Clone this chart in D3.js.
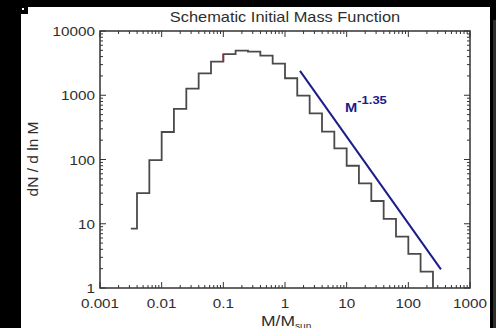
<!DOCTYPE html>
<html>
<head>
<meta charset="utf-8">
<script src="https://cdnjs.cloudflare.com/ajax/libs/d3/7.8.5/d3.min.js"></script>
<style>
  html, body { margin: 0; padding: 0; background: #000; }
  svg { display: block; }
  text { font-family: "Liberation Sans", Arial, Helvetica, sans-serif; fill: #2e2e2e; }
</style>
</head>
<body>
<svg id="chart" width="496" height="328"></svg>
<script>
// histogram bin edges (M/Msun) and dN/dlnM per bin
const binEdges = [0.00316, 0.00398, 0.00631, 0.01, 0.0158, 0.0251, 0.0398, 0.0631, 0.1,
    0.158, 0.251, 0.398, 0.631, 1, 1.58, 2.51, 3.98, 6.31, 10, 15.8, 25.1, 39.8, 63.1,
    100, 158, 251];
const binCounts = [8.4, 30, 98, 268, 612, 1270, 2190, 3330, 4370, 4940, 4760, 4150, 3100,
    1840, 984, 524, 271, 149, 80, 42.6, 22.6, 11.9, 6.3, 3.4, 1.8];

// power-law guide line, end points
const slopeLine = [[1.75, 2400], [338, 1.95]];
const slopeLabel = "M";
const slopeExp = "-1.35";

const xTickVals = [0.001, 0.01, 0.1, 1, 10, 100, 1000];
const xTickLabels = ["0.001", "0.01", "0.1", "1", "10", "100", "1000"];
const yTickVals = [1, 10, 100, 1000, 10000];
const yTickLabels = ["1", "10", "100", "1000", "10000"];

const svg = d3.select("#chart");

// backdrop (photo-like black border)
svg.append("rect").attr("width", 496).attr("height", 328).attr("fill", "#000");
svg.append("rect").attr("x", 21).attr("y", 7).attr("width", 469).attr("height", 321).attr("fill", "#fff");
svg.append("rect").attr("x", 21).attr("y", 7).attr("width", 7).attr("height", 7).attr("fill", "#000");
svg.append("rect").attr("x", 22).attr("y", 8).attr("width", 2).attr("height", 2).attr("fill", "#fff");
svg.append("rect").attr("x", 493).attr("y", 20).attr("width", 3).attr("height", 308).attr("fill", "#2e2e2e");

const pLeft = 100, pRight = 470, pTop = 31, pBottom = 288;

const x = d3.scaleLog().domain([0.001, 1000]).range([pLeft, pRight]);
const y = d3.scaleLog().domain([1, 10000]).range([pBottom, pTop]);

const axisColor = "#333";
const stretch = 1.13;   // the original image is a bit wider than tall
const g = svg.append("g");

// minor + major ticks on all four sides, pointing inward
function tickLen(v) {
    let l = Math.log10(v);
    return Math.abs(l - Math.round(l)) < 1e-6 ? 6 : 3;
}
const xMinor = x.ticks(60).filter(v => v >= 0.001 && v <= 1000);
const yMinor = y.ticks(40).filter(v => v >= 1 && v <= 10000);

g.selectAll(".xb").data(xMinor).enter().append("line")
    .attr("x1", d => x(d)).attr("x2", d => x(d))
    .attr("y1", pBottom).attr("y2", d => pBottom - tickLen(d))
    .attr("stroke", axisColor).attr("stroke-width", 1);
g.selectAll(".xt").data(xMinor).enter().append("line")
    .attr("x1", d => x(d)).attr("x2", d => x(d))
    .attr("y1", pTop).attr("y2", d => pTop + tickLen(d))
    .attr("stroke", axisColor).attr("stroke-width", 1);
g.selectAll(".yl").data(yMinor).enter().append("line")
    .attr("y1", d => y(d)).attr("y2", d => y(d))
    .attr("x1", pLeft).attr("x2", d => pLeft + tickLen(d))
    .attr("stroke", axisColor).attr("stroke-width", 1);
g.selectAll(".yr").data(yMinor).enter().append("line")
    .attr("y1", d => y(d)).attr("y2", d => y(d))
    .attr("x1", pRight).attr("x2", d => pRight - tickLen(d))
    .attr("stroke", axisColor).attr("stroke-width", 1);

// frame
g.append("rect").attr("x", pLeft).attr("y", pTop)
    .attr("width", pRight - pLeft).attr("height", pBottom - pTop)
    .attr("fill", "none").attr("stroke", axisColor).attr("stroke-width", 1.5);

// tick labels
g.selectAll(".xl").data(xTickVals).enter().append("text")
    .attr("transform", d => "translate(" + x(d) + ",308) scale(" + stretch + ",1)")
    .attr("text-anchor", "middle").attr("font-size", 13.5)
    .text((d, i) => xTickLabels[i]);
g.selectAll(".ylab").data(yTickVals).enter().append("text")
    .attr("transform", d => "translate(95," + (y(d) + 5) + ") scale(" + stretch + ",1)")
    .attr("text-anchor", "end").attr("font-size", 13.5)
    .text((d, i) => yTickLabels[i]);

// histogram as a step line
const histPts = binCounts.map((c, i) => [binEdges[i], c]);
histPts.push([binEdges[binEdges.length - 1], 1]);
const stepLine = d3.line()
    .x(d => x(d[0]))
    .y(d => y(d[1]))
    .curve(d3.curveStepAfter);
g.append("path").datum(histPts)
    .attr("d", stepLine)
    .attr("fill", "none").attr("stroke", "#4a4a4a").attr("stroke-width", 1.8);

// small red highlight at the M = 0.1 step
g.append("line")
    .attr("x1", x(binEdges[8])).attr("x2", x(binEdges[8]))
    .attr("y1", y(binCounts[7])).attr("y2", y(binCounts[8]))
    .attr("stroke", "#b0203a").attr("stroke-width", 1.6);

// power law line
g.append("path").datum(slopeLine)
    .attr("d", d3.line().x(d => x(d[0])).y(d => y(d[1])))
    .attr("fill", "none").attr("stroke", "#1c1c8a").attr("stroke-width", 2);

const lab = g.append("text").attr("transform", "translate(345,112) scale(" + stretch + ",1)")
    .attr("font-size", 13).attr("font-weight", "bold").style("fill", "#1c1c8a");
lab.append("tspan").text(slopeLabel);
lab.append("tspan").attr("dy", -8).attr("font-size", 11.5).text(slopeExp);

// title
svg.append("text").attr("transform", "translate(285,22) scale(" + stretch + ",1)")
    .attr("text-anchor", "middle").attr("font-size", 14.5)
    .text("Schematic Initial Mass Function");

// axis titles
svg.append("text")
    .attr("transform", "translate(38,159) rotate(-90)")
    .attr("text-anchor", "middle").attr("font-size", 15.5)
    .text("dN / d ln M");

const xt = svg.append("text").attr("transform", "translate(261,326) scale(" + stretch + ",1)")
    .attr("font-size", 15.5);
xt.append("tspan").text("M/M");
xt.append("tspan").attr("dy", 3).attr("font-size", 9).text("sun");
</script>
</body>
</html>
